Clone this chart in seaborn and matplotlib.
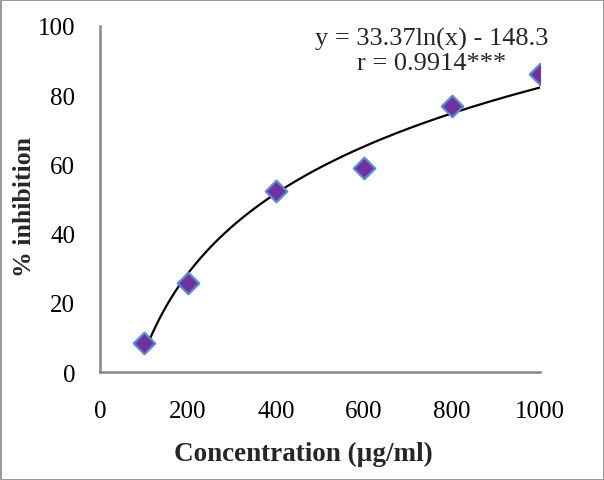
import numpy as np
import pandas as pd
import matplotlib
matplotlib.use("Agg")
import matplotlib.pyplot as plt
import seaborn as sns

# measured points
concentration = [100, 200, 400, 600, 800, 1000]
inhibition = [8.5, 25.8, 52.4, 59.0, 77.0, 86.0]

# logarithmic trendline shown on the chart
fit_a = 33.37
fit_b = -148.3
fit_label = "y = 33.37ln(x) - 148.3"
r_label = "r = 0.9914***"

x_ticks = [0, 200, 400, 600, 800, 1000]
y_ticks = [0, 20, 40, 60, 80, 100]

sns.set_style("white")
plt.rcParams["font.family"] = ["Liberation Serif", "DejaVu Serif"]

df = pd.DataFrame({"conc": concentration, "inh": inhibition})
xs = np.linspace(min(concentration), max(concentration), 200)
trend = pd.DataFrame({"conc": xs, "inh": fit_a * np.log(xs) + fit_b})

fig = plt.figure(figsize=(6.04, 4.81), dpi=100, edgecolor="#9a9a9a", linewidth=2)
ax = fig.add_axes([0.1656, 0.2245, 0.894 - 0.1656, 0.9439 - 0.2245])

sns.lineplot(data=trend, x="conc", y="inh", color="black", linewidth=1.6, ax=ax, zorder=2)
sns.scatterplot(data=df, x="conc", y="inh", marker="D", s=120, color="#7030a0",
                edgecolor="#5b8bd0", linewidth=1.6, ax=ax, zorder=3)

ax.set_xlim(0, 1000)
ax.set_ylim(0, 100)
ax.set_xticks(x_ticks)
ax.set_yticks(y_ticks)
ax.tick_params(axis="both", direction="out", length=6, width=1.5, color="#868686",
               labelsize=18, labelcolor="black")
ax.tick_params(axis="x", pad=14)
ax.tick_params(axis="y", pad=12)
for side in ["top", "right"]:
    ax.spines[side].set_visible(False)
for side in ["left", "bottom"]:
    ax.spines[side].set_color("#868686")
    ax.spines[side].set_linewidth(1.8)

ax.set_xlabel("Concentration (µg/ml)", fontsize=19.5, fontweight="bold")
ax.set_ylabel("% inhibition", fontsize=18.5, fontweight="bold")
ax.xaxis.set_label_coords(0.4625, -0.2)
ax.yaxis.set_label_coords(-0.146, 0.48)

ax.text(0.755, 0.965, fit_label, transform=ax.transAxes, fontsize=19,
        ha="center", va="center")
ax.text(0.753, 0.893, r_label, transform=ax.transAxes, fontsize=19,
        ha="center", va="center")

fig.savefig("out.png", dpi=100, edgecolor=fig.get_edgecolor())
